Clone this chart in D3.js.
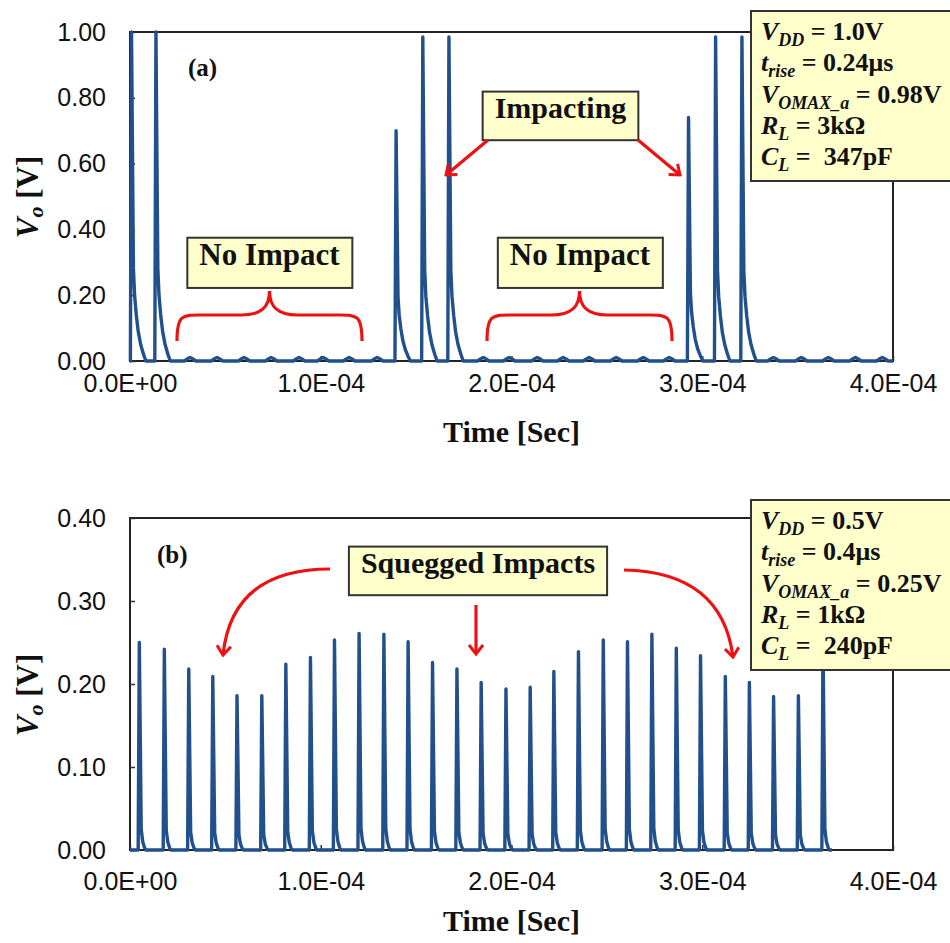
<!DOCTYPE html>
<html><head><meta charset="utf-8">
<script src="https://cdn.jsdelivr.net/npm/d3@7"></script>
<style>body{margin:0;background:#fff} svg{display:block}</style>
</head><body>
<svg id="c" width="950" height="943"></svg>
<script>
// ---------------- data ----------------
const xTicks = [0, 1e-4, 2e-4, 3e-4, 4e-4];
const yTicksA = [0, 0.2, 0.4, 0.6, 0.8, 1.0];
const yTicksB = [0, 0.1, 0.2, 0.3, 0.4];

// panel (a): impact peaks (time [s], Vo [V])
const peakTimesA  = [0.8e-6, 1.36e-5, 1.395e-4, 1.535e-4, 1.672e-4, 2.928e-4, 3.07e-4, 3.208e-4];
const peakValuesA = [1.00, 1.00, 0.70, 0.985, 0.985, 0.74, 0.985, 0.985];
// panel (a): small "no impact" bumps
const bumpTimesA  = [3.15e-5, 4.56e-5, 5.98e-5, 7.40e-5, 8.86e-5, 1.012e-4, 1.149e-4, 1.296e-4,
                     1.852e-4, 1.988e-4, 2.135e-4, 2.271e-4, 2.407e-4, 2.549e-4, 2.691e-4, 2.827e-4,
                     3.373e-4, 3.519e-4, 3.661e-4, 3.803e-4, 3.944e-4];
const bumpValuesA = [0.011, 0.011, 0.011, 0.011, 0.011, 0.011, 0.011, 0.011,
                     0.011, 0.011, 0.011, 0.011, 0.011, 0.011, 0.011, 0.011,
                     0.011, 0.011, 0.011, 0.011, 0.011];
const endTimeA = 4.0e-4;

// panel (b): squegged impact peaks
const peakTimesB  = [4.88e-6, 1.80e-5, 3.08e-5, 4.34e-5, 5.61e-5, 6.91e-5, 8.17e-5, 9.46e-5,
                     1.072e-4, 1.201e-4, 1.331e-4, 1.458e-4, 1.586e-4, 1.714e-4, 1.841e-4, 1.971e-4,
                     2.098e-4, 2.222e-4, 2.351e-4, 2.481e-4, 2.608e-4, 2.736e-4, 2.864e-4, 2.991e-4,
                     3.121e-4, 3.247e-4, 3.374e-4, 3.504e-4, 3.633e-4];
const peakValuesB = [0.250, 0.242, 0.218, 0.209, 0.186, 0.186, 0.224, 0.232,
                     0.253, 0.261, 0.260, 0.251, 0.226, 0.218, 0.202, 0.194,
                     0.196, 0.215, 0.239, 0.253, 0.251, 0.260, 0.243, 0.234,
                     0.209, 0.202, 0.185, 0.186, 0.250];
const endTimeB = 3.68e-4;

// pulse shape templates: [time offset (s), fraction of peak]
const pulseShapeA = [[-0.6e-6,0],[0,1],[1.0e-6,0.28],[1.6e-6,0.2],[2.5e-6,0.14],[3.5e-6,0.09],[4.8e-6,0.05],[6.3e-6,0.02],[7.5e-6,0]];
const pulseShapeB = [[-0.6e-6,0],[0,1],[1.0e-6,0.1],[1.8e-6,0.04],[2.7e-6,0.012],[3.4e-6,0]];
const bumpShape   = [[-3e-6,0],[-1.5e-6,0.55],[0,1],[1.5e-6,0.55],[3e-6,0]];

const legendA = [["V","DD"," = 1.0V"],["t","rise"," = 0.24μs"],["V","OMAX_a"," = 0.98V"],["R","L"," = 3kΩ"],["C","L"," =\u00a0 347pF"]];
const legendB = [["V","DD"," = 0.5V"],["t","rise"," = 0.4μs"],["V","OMAX_a"," = 0.25V"],["R","L"," = 1kΩ"],["C","L"," =\u00a0 240pF"]];

// ---------------- drawing ----------------
const svg = d3.select("#c");
const SERIF = "'Liberation Serif','Times New Roman',serif";
const SANS = "'Liberation Sans',Arial,sans-serif";
const BLUE = "#21508c", RED = "#ee1111", YEL = "#ffffcc";

function sci(v){
  if (v === 0) return "0.0E+00";
  const e = Math.floor(Math.log10(Math.abs(v)) + 1e-9);
  const m = v / Math.pow(10, e);
  return m.toFixed(1) + "E" + (e < 0 ? "-" : "+") + String(Math.abs(e)).padStart(2, "0");
}

function buildSeries(pt, pv, shape, bt, bv, bshape, tEnd){
  const pts = [{t:0, v:0}];
  pt.forEach((t,i)=> shape.forEach(([dt,f])=> pts.push({t:t+dt, v:pv[i]*f})));
  bt.forEach((t,i)=> bshape.forEach(([dt,f])=> pts.push({t:t+dt, v:bv[i]*f})));
  pts.push({t:tEnd, v:0});
  return pts.filter(d=>d.t>=0).sort((a,b)=>a.t-b.t);
}

svg.append("defs").append("marker")
  .attr("id","ah").attr("viewBox","-10 -8 12 16").attr("refX",0).attr("refY",0)
  .attr("markerWidth",12).attr("markerHeight",16).attr("markerUnits","userSpaceOnUse")
  .attr("orient","auto")
  .append("path").attr("d","M-9,-7 L0,0 L-9,7").attr("fill","none")
  .attr("stroke",RED).attr("stroke-width",3);

function panel(cfg){
  const g = svg.append("g");
  const x = d3.scaleLinear().domain([0, 4e-4]).range([130, 893]);
  const y = d3.scaleLinear().domain(cfg.yDomain).range([cfg.y0, cfg.y1]);

  // frame
  g.append("rect").attr("x",x(0)).attr("y",cfg.y1).attr("width",x(4e-4)-x(0)).attr("height",cfg.y0-cfg.y1)
    .attr("fill","none").attr("stroke","#222").attr("stroke-width",2);

  // axes
  const ya = g.append("g").attr("transform",`translate(${x(0)},0)`)
    .call(d3.axisLeft(y).tickValues(cfg.yTicks).tickFormat(d3.format(".2f")).tickSizeInner(-5).tickSizeOuter(0).tickPadding(24));
  ya.select(".domain").remove();
  ya.selectAll("text").attr("font-family",SANS).attr("font-size",25).attr("fill","#111");
  ya.selectAll("line").attr("stroke","#333").attr("stroke-width",1.5);

  const xa = g.append("g").attr("transform",`translate(0,${cfg.y0})`)
    .call(d3.axisBottom(x).tickValues(xTicks).tickFormat(sci).tickSizeInner(-5).tickSizeOuter(0).tickPadding(cfg.xPad));
  xa.select(".domain").remove();
  xa.selectAll("text").attr("font-family",SANS).attr("font-size",25).attr("fill","#111");
  xa.selectAll("line").attr("stroke","#333").attr("stroke-width",1.5);

  // series
  const line = d3.line().x(d=>x(d.t)).y(d=>y(d.v));
  g.append("path").datum(cfg.series).attr("d",line).attr("fill","none")
    .attr("stroke",BLUE).attr("stroke-width",3.4).attr("stroke-linejoin","round");

  // axis titles
  g.append("text").attr("x",(x(0)+x(4e-4))/2).attr("y",cfg.xTitleY).attr("text-anchor","middle")
    .attr("font-family",SERIF).attr("font-weight","bold").attr("font-size",30).attr("fill","#111")
    .text("Time [Sec]");
  const yt = g.append("text").attr("transform",`translate(38,${cfg.yTitleC}) rotate(-90)`)
    .attr("text-anchor","middle").attr("font-family",SERIF).attr("font-weight","bold")
    .attr("font-size",31).attr("fill","#111");
  yt.append("tspan").attr("font-style","italic").text("V");
  yt.append("tspan").attr("font-style","italic").attr("font-size",22).attr("dy",5).text("o");
  yt.append("tspan").attr("dy",-5).text(" [V]");

  // panel tag
  g.append("text").attr("x",cfg.tagX).attr("y",cfg.tagY).attr("font-family",SERIF).attr("font-weight","bold")
    .attr("font-size",25).attr("fill","#111").text(cfg.tag);

  // legend box
  g.append("rect").attr("x",751).attr("y",cfg.boxY).attr("width",230).attr("height",cfg.boxH)
    .attr("fill",YEL).attr("stroke","#333").attr("stroke-width",2);
  cfg.legend.forEach((l,i)=>{
    const t = g.append("text").attr("x",761).attr("y",cfg.boxY+29+i*31.3)
      .attr("font-family",SERIF).attr("font-weight","bold").attr("font-size",26).attr("fill","#111");
    t.append("tspan").attr("font-style","italic").text(l[0]);
    t.append("tspan").attr("font-style","italic").attr("font-size",18).attr("dy",6).text(l[1]);
    t.append("tspan").attr("dy",-6).text(l[2]);
  });
  return g;
}

function labelBox(g, cx, baseY, txt, size){
  const t = g.append("text").attr("x",cx).attr("y",baseY).attr("text-anchor","middle")
    .attr("font-family",SERIF).attr("font-weight","bold").attr("font-size",size).attr("fill","#111").text(txt);
  const bb = t.node().getBBox();
  g.insert("rect", () => t.node()).attr("x",bb.x-12).attr("y",baseY-size*0.88).attr("width",bb.width+24).attr("height",size*1.62)
    .attr("fill",YEL).attr("stroke","#333").attr("stroke-width",2);
}

const seriesA = buildSeries(peakTimesA, peakValuesA, pulseShapeA, bumpTimesA, bumpValuesA, bumpShape, endTimeA);
const seriesB = buildSeries(peakTimesB, peakValuesB, pulseShapeB, [], [], bumpShape, endTimeB);

const gA = panel({yDomain:[0,1], y0:361, y1:32, yTicks:yTicksA, series:seriesA, xPad:13, xTitleY:442,
  yTitleC:197, tag:"(a)", tagX:188, tagY:76, legend:legendA, boxY:11, boxH:170});
const gB = panel({yDomain:[0,0.4], y0:850, y1:518, yTicks:yTicksB, series:seriesB, xPad:22, xTitleY:931,
  yTitleC:695, tag:"(b)", tagX:157, tagY:563, legend:legendB, boxY:500, boxH:170});

// annotations panel (a)
labelBox(gA, 560.5, 118, "Impacting", 30);
labelBox(gA, 269.5, 265, "No Impact", 31);
labelBox(gA, 580, 265, "No Impact", 31);

function brace(g, x0, x1, yEnd, yMid, yTip){
  const cx = (x0+x1)/2;
  const d = `M${x0},${yEnd} C${x0},${yMid-2} ${x0+6},${yMid} ${x0+28},${yMid} L${cx-28},${yMid}`+
            ` C${cx-8},${yMid} ${cx},${yMid-8} ${cx},${yTip} C${cx},${yMid-8} ${cx+8},${yMid} ${cx+28},${yMid}`+
            ` L${x1-28},${yMid} C${x1-6},${yMid} ${x1},${yMid-2} ${x1},${yEnd}`;
  g.append("path").attr("d",d).attr("fill","none").attr("stroke",RED).attr("stroke-width",3.2);
}
brace(gA, 177, 362, 341, 315, 291);
brace(gA, 487, 672, 341, 315, 291);

function arrow(g, d){
  g.append("path").attr("d",d).attr("fill","none").attr("stroke",RED).attr("stroke-width",3.2)
    .attr("marker-end","url(#ah)");
}
arrow(gA, "M488,140 L446,175");
arrow(gA, "M638,140 L680,175");

// annotations panel (b)
labelBox(gB, 478, 573, "Squegged Impacts", 30);
arrow(gB, "M330,569 Q232,569 223,655");
arrow(gB, "M476,605 L476,654");
arrow(gB, "M624,570 Q722,572 733,657");
</script>
</body></html>
